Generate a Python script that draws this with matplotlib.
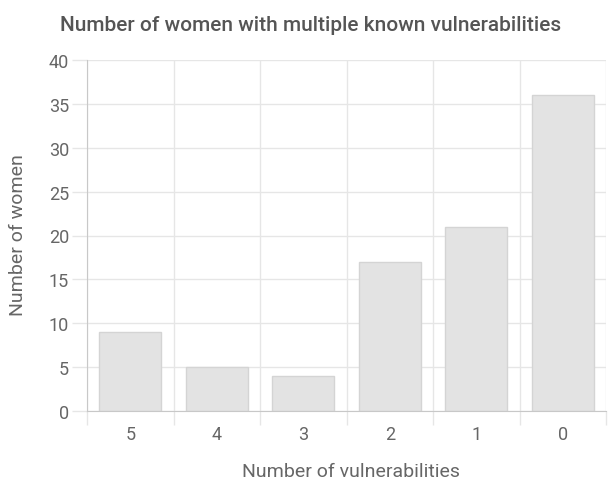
import matplotlib.pyplot as plt
import numpy as np

categories = ['5', '4', '3', '2', '1', '0']
women = [9, 5, 4, 17, 21, 36]

plt.rcParams['font.family'] = ['Roboto', 'DejaVu Sans']

fig = plt.figure(figsize=(6.12, 4.81), dpi=100)
ax = fig.add_axes([87 / 612, 69 / 481, 519 / 612, 351 / 481])

x = np.arange(len(categories))
ax.bar(x, women, width=0.72, color='#e3e3e3', edgecolor='#d4d4d4', linewidth=1, zorder=2)

ax.set_xlim(-0.5, len(categories) - 0.5)
ax.set_ylim(0, 40)
ax.set_yticks(range(0, 41, 5))
ax.set_xticks(x)
ax.set_xticklabels(categories)

# grid lines between categories, like chart.js
ax.set_xticks(np.arange(-0.5, len(categories), 1), minor=True)
ax.grid(which='minor', axis='x', color='#e6e6e6', linewidth=1, zorder=0)
ax.grid(which='major', axis='y', color='#e6e6e6', linewidth=1, zorder=0)
ax.tick_params(axis='x', which='major', length=0, pad=10, labelsize=13, labelcolor='#666666')
ax.tick_params(axis='x', which='minor', length=10, color='#e6e6e6', width=1)
ax.tick_params(axis='y', length=11, color='#e6e6e6', width=1, pad=2, labelsize=13, labelcolor='#666666')

for side in ['top', 'right']:
    ax.spines[side].set_visible(False)
ax.spines['left'].set_color('#c8c8c8')
ax.spines['bottom'].set_color('#c8c8c8')

fig.text(351 / 612, 1 - 477 / 481, 'Number of vulnerabilities', ha='center', va='baseline',
         fontsize=14, color='#666666')
fig.text(18 / 612, 1 - 235 / 481, 'Number of women', ha='center', va='center', rotation=90,
         fontsize=14, color='#666666')
fig.text(311 / 612, 1 - 31 / 481, 'Number of women with multiple known vulnerabilities', ha='center',
         va='baseline', fontsize=15, fontweight='medium', color='#555555')

plt.savefig('out.png', dpi=100)
